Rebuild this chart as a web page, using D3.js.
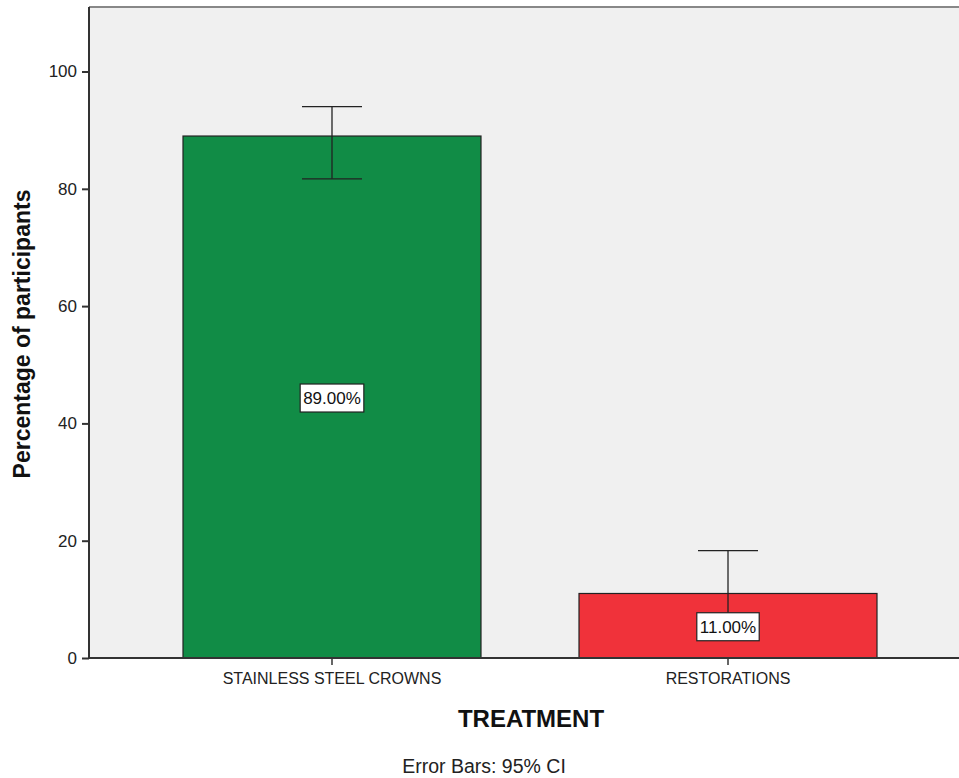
<!DOCTYPE html>
<html><head><meta charset="utf-8">
<script src="https://cdn.jsdelivr.net/npm/d3@7"></script>
<style>body{margin:0;background:#fff}svg{display:block}text{font-family:"Liberation Sans",Arial,sans-serif}</style>
</head><body><svg id="c" width="959" height="778"></svg>
<script>
const categories = ["STAINLESS STEEL CROWNS", "RESTORATIONS"];
const values = [89, 11];
const ciLow = [81.7, 5.0];
const ciHigh = [94.0, 18.3];
const labels = ["89.00%", "11.00%"];
const colors = ["#118c46", "#f0323a"];
const yTicks = [0, 20, 40, 60, 80, 100];

const svg = d3.select("#c");
const L = 89, R = 959, T = 7, B = 658;
const y = d3.scaleLinear().domain([0, 111]).range([B, T]);
const x = d3.scaleBand().domain(categories).range([183, 877]).paddingInner(0.2475).paddingOuter(0);

svg.append("rect").attr("x", L).attr("y", T).attr("width", R - L).attr("height", B - T).attr("fill", "#f0f0f0");
svg.append("line").attr("x1", L).attr("x2", R).attr("y1", T).attr("y2", T).attr("stroke", "#888").attr("stroke-width", 2);

// bars
svg.selectAll("rect.bar").data(categories).join("rect").attr("class", "bar")
  .attr("x", d => x(d)).attr("width", x.bandwidth())
  .attr("y", (d, i) => y(values[i])).attr("height", (d, i) => B - y(values[i]))
  .attr("fill", (d, i) => colors[i]).attr("stroke", "#222").attr("stroke-width", 1.2);

// error bars
const eb = svg.append("g").attr("stroke", "#222").attr("stroke-width", 1.3);
categories.forEach((c, i) => {
  const cx = x(c) + x.bandwidth() / 2;
  eb.append("line").attr("x1", cx).attr("x2", cx).attr("y1", y(ciLow[i])).attr("y2", y(ciHigh[i]));
  [ciLow[i], ciHigh[i]].forEach(v => eb.append("line").attr("x1", cx - 30).attr("x2", cx + 30).attr("y1", y(v)).attr("y2", y(v)));
});

// value labels
categories.forEach((c, i) => {
  const cx = x(c) + x.bandwidth() / 2;
  const cy = y(values[i] / 2) + 1;
  const g = svg.append("g");
  const t = g.append("text").attr("x", cx).attr("y", cy).attr("text-anchor", "middle").attr("dy", "0.36em")
    .attr("font-size", 17).attr("fill", "#111").text(labels[i]);
  const bb = t.node().getBBox();
  g.insert("rect", "text").attr("x", bb.x - 3).attr("y", cy - 14).attr("width", bb.width + 6).attr("height", 28)
    .attr("fill", "#fff").attr("stroke", "#222").attr("stroke-width", 1.2);
});

// axes
const ya = svg.append("g").attr("transform", `translate(${L},0)`)
  .call(d3.axisLeft(y).tickValues(yTicks).tickSize(7).tickPadding(5));
ya.select(".domain").attr("d", `M0,${T}V${B}`).attr("stroke", "#333").attr("stroke-width", 2);
ya.selectAll(".tick line").attr("stroke", "#333").attr("stroke-width", 2);
ya.selectAll("text").attr("font-size", 17).attr("fill", "#222").attr("font-family", "Liberation Sans, Arial, sans-serif");

const xa = svg.append("g").attr("transform", `translate(0,${B})`)
  .call(d3.axisBottom(x).tickSize(7).tickPadding(8));
xa.select(".domain").attr("d", `M${L},0H${R}`).attr("stroke", "#333").attr("stroke-width", 2);
xa.selectAll(".tick line").attr("stroke", "#333").attr("stroke-width", 1.5);
xa.selectAll("text").attr("font-size", 16).attr("fill", "#222").attr("font-family", "Liberation Sans, Arial, sans-serif");

svg.append("text").attr("transform", "translate(30,334) rotate(-90)").attr("text-anchor", "middle")
  .attr("font-size", 23).attr("font-weight", "bold").attr("fill", "#111").text("Percentage of participants");
svg.append("text").attr("x", 531).attr("y", 727).attr("text-anchor", "middle")
  .attr("font-size", 24).attr("font-weight", "bold").attr("fill", "#111").text("TREATMENT");
svg.append("text").attr("x", 484).attr("y", 773).attr("text-anchor", "middle")
  .attr("font-size", 19.5).attr("fill", "#222").text("Error Bars: 95% CI");
</script></body></html>
